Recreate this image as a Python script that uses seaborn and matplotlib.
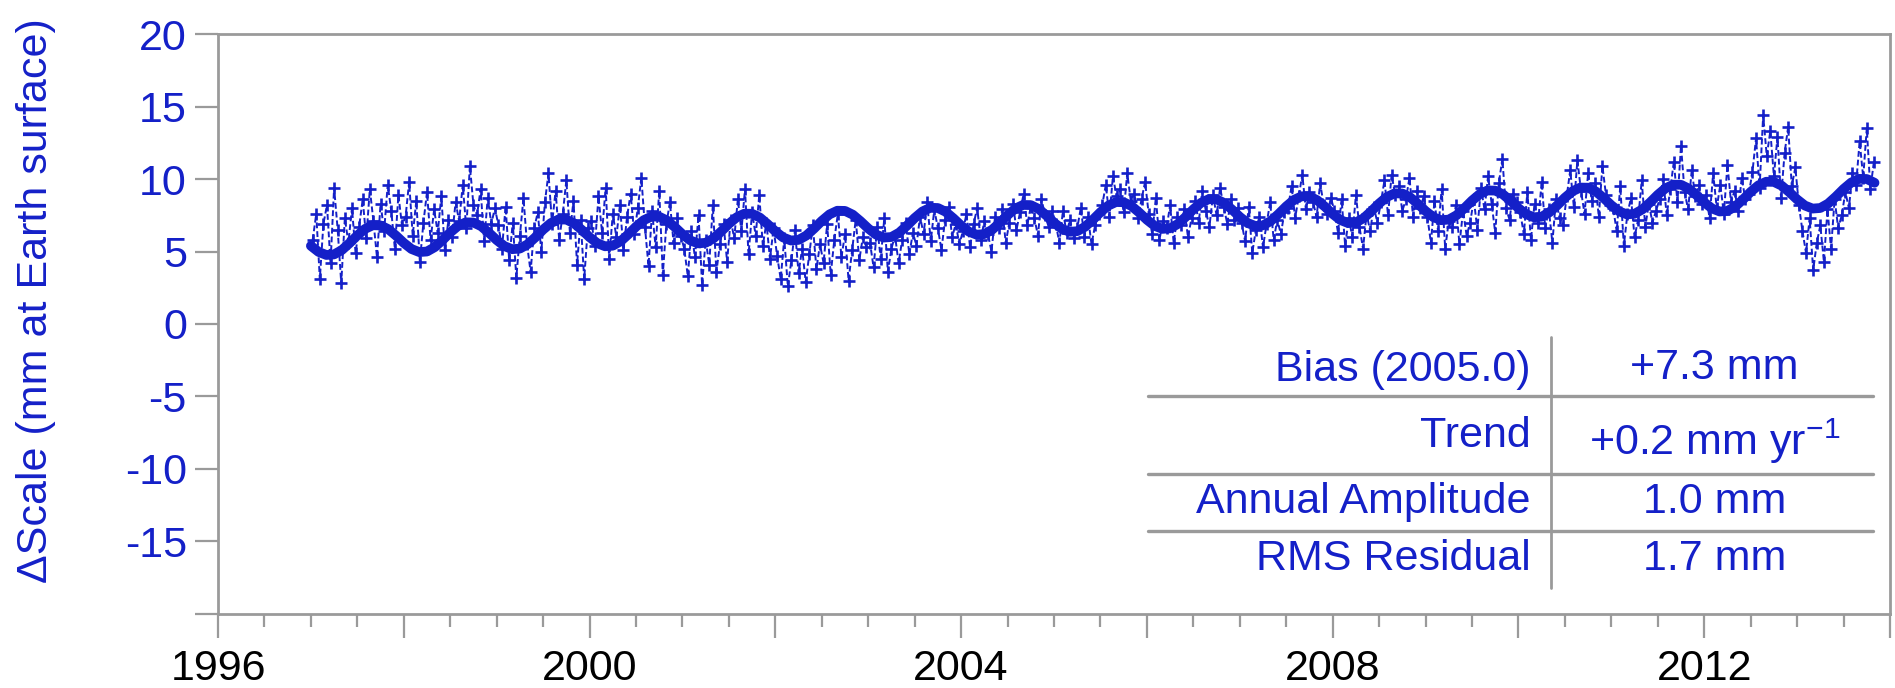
import numpy as np
import pandas as pd
import matplotlib
matplotlib.use('Agg')
import matplotlib.pyplot as plt
from matplotlib.ticker import MultipleLocator, FuncFormatter
import seaborn as sns

# Weekly-ish (biweekly) scale estimates, mm at Earth surface
raw_1997 = [5.8, 7.6, 3.1, 6.9, 8.2, 4.2, 9.4, 6.5, 2.8, 7.3, 5.6, 8.0, 4.9,
            6.7, 8.6, 5.9, 9.3, 7.1, 4.6, 8.3, 6.4, 9.6, 7.8, 5.2, 8.9, 6.8]
raw_1998 = [7.4, 9.8, 6.1, 8.5, 4.3, 7.0, 9.1, 5.8, 7.9, 6.3, 8.8, 5.1, 7.2,
            6.0, 8.4, 7.1, 9.6, 6.6, 10.9, 8.2, 7.5, 9.3, 5.7, 8.7, 6.9, 8.0]
raw_1999 = [6.8, 5.2, 8.1, 4.4, 7.0, 3.2, 6.1, 8.7, 5.5, 3.6, 6.6, 7.7, 5.0,
            8.4, 10.4, 6.9, 9.2, 5.8, 7.6, 9.9, 6.3, 8.5, 4.1, 7.2, 3.1, 6.6]
raw_2000 = [7.1, 5.4, 8.8, 6.3, 9.4, 4.5, 7.6, 6.0, 8.2, 5.1, 7.4, 9.0, 6.2,
            8.0, 10.1, 6.7, 4.0, 7.8, 5.3, 9.2, 3.4, 6.9, 8.4, 5.6, 7.3, 6.1]
raw_2001 = [5.2, 3.3, 6.4, 4.6, 7.5, 2.7, 5.8, 4.1, 8.2, 3.6, 5.5, 6.9, 4.3,
            7.2, 5.9, 8.6, 6.4, 9.3, 4.8, 7.7, 6.1, 8.9, 5.4, 7.0, 4.5, 6.6]
raw_2002 = [4.7, 3.1, 5.9, 2.6, 4.4, 6.5, 3.5, 5.2, 2.9, 4.8, 6.8, 3.8, 5.5,
            4.2, 6.9, 3.4, 5.8, 7.6, 4.6, 6.2, 3.0, 5.1, 7.2, 4.4, 6.0, 5.3]
raw_2003 = [5.6, 3.9, 6.7, 4.5, 7.3, 3.6, 5.2, 6.1, 4.2, 5.8, 7.0, 4.8, 6.3,
            5.4, 7.4, 6.2, 8.4, 5.7, 7.9, 6.6, 5.1, 7.2, 8.1, 6.0, 6.9, 5.5]
raw_2004 = [6.4, 7.6, 5.3, 6.9, 8.0, 5.8, 7.1, 6.2, 5.0, 7.4, 6.6, 7.9, 5.6,
            7.0, 8.3, 6.5, 7.7, 9.0, 6.8, 8.1, 7.3, 6.1, 8.6, 7.5, 6.7, 7.8]
raw_2005 = [6.9, 5.6, 7.8, 6.3, 7.2, 5.9, 6.6, 8.0, 6.0, 7.4, 5.5, 6.8, 7.6,
            8.2, 9.6, 7.4, 10.2, 8.8, 9.3, 7.7, 10.4, 8.5, 9.0, 7.3, 8.6, 9.8]
raw_2006 = [7.6, 6.2, 8.7, 5.8, 7.1, 6.6, 8.2, 5.6, 7.4, 6.8, 7.9, 6.0, 7.3,
            8.5, 7.0, 9.2, 7.8, 6.7, 8.9, 7.5, 9.4, 8.1, 6.9, 8.6, 7.2, 8.0]
raw_2007 = [7.0, 5.7, 8.1, 4.9, 6.5, 7.4, 5.3, 6.9, 8.4, 5.8, 7.2, 6.2, 7.7,
            8.0, 9.5, 7.3, 8.8, 10.3, 7.9, 9.1, 8.4, 7.4, 9.7, 8.2, 7.6, 8.7]
raw_2008 = [7.8, 6.3, 8.6, 5.4, 7.3, 6.0, 8.9, 6.7, 5.2, 7.6, 6.4, 8.1, 7.0,
            8.4, 9.9, 7.5, 10.3, 8.9, 9.5, 7.8, 8.6, 10.1, 7.4, 9.2, 8.0, 8.8]
raw_2009 = [7.4, 5.6, 8.5, 6.4, 9.3, 5.2, 7.1, 6.7, 8.2, 5.5, 7.8, 6.1, 7.0,
            8.6, 6.5, 9.4, 7.9, 10.2, 8.3, 6.3, 9.7, 11.4, 8.0, 7.2, 9.0, 8.4]
raw_2010 = [7.7, 6.2, 9.1, 5.8, 8.3, 7.0, 9.8, 6.6, 7.9, 5.6, 8.6, 7.3, 6.8,
            8.8, 10.6, 8.1, 11.3, 9.2, 7.6, 10.4, 8.5, 9.7, 7.4, 10.9, 8.9, 8.2]
raw_2011 = [8.0, 6.4, 9.5, 5.4, 7.6, 8.7, 6.0, 7.2, 9.9, 6.7, 8.3, 7.0, 7.8,
            8.6, 10.0, 7.5, 9.3, 11.2, 8.4, 12.3, 9.1, 7.9, 10.6, 8.8, 9.6, 8.3]
raw_2012 = [8.9, 7.3, 10.4, 8.0, 9.6, 7.6, 11.0, 8.4, 9.2, 7.8, 10.1, 8.6, 9.0,
            10.5, 12.8, 9.4, 14.4, 11.6, 13.3, 10.2, 12.9, 8.7, 11.8, 13.6, 9.5, 10.8]
raw_2013 = [8.2, 6.4, 4.9, 7.3, 3.7, 5.6, 6.8, 4.3, 7.9, 5.2, 8.6, 6.6, 7.5,
            9.1, 8.0, 10.4, 9.6, 12.6, 10.1, 13.5, 9.3, 11.2]
raw_years = list(range(1997, 2014))

# fitted model (bias + trend + annual), monthly values from Jan 1997
fit_scale = [
    5.39, 4.97, 4.76, 4.80, 5.10, 5.58, 6.11, 6.56, 6.81, 6.80, 6.54, 6.09,
    5.59, 5.17, 4.96, 5.00, 5.30, 5.78, 6.31, 6.76, 7.01, 7.00, 6.74, 6.29,
    5.79, 5.37, 5.16, 5.20, 5.50, 5.98, 6.51, 6.96, 7.21, 7.20, 6.94, 6.49,
    5.99, 5.57, 5.36, 5.40, 5.70, 6.18, 6.71, 7.16, 7.41, 7.40, 7.14, 6.69,
    6.19, 5.77, 5.56, 5.60, 5.90, 6.38, 6.91, 7.36, 7.61, 7.60, 7.34, 6.89,
    6.39, 5.97, 5.76, 5.80, 6.10, 6.58, 7.11, 7.56, 7.81, 7.80, 7.54, 7.09,
    6.59, 6.17, 5.96, 6.00, 6.30, 6.78, 7.31, 7.76, 8.01, 8.00, 7.74, 7.29,
    6.79, 6.37, 6.16, 6.20, 6.50, 6.98, 7.51, 7.96, 8.21, 8.20, 7.94, 7.49,
    6.99, 6.57, 6.36, 6.40, 6.70, 7.18, 7.71, 8.16, 8.41, 8.40, 8.14, 7.69,
    7.19, 6.77, 6.56, 6.60, 6.90, 7.38, 7.91, 8.36, 8.61, 8.60, 8.34, 7.89,
    7.39, 6.97, 6.76, 6.80, 7.10, 7.58, 8.11, 8.56, 8.81, 8.80, 8.54, 8.09,
    7.59, 7.17, 6.96, 7.00, 7.30, 7.78, 8.31, 8.76, 9.01, 9.00, 8.74, 8.29,
    7.79, 7.37, 7.16, 7.20, 7.50, 7.98, 8.51, 8.96, 9.21, 9.20, 8.94, 8.49,
    7.99, 7.57, 7.36, 7.40, 7.70, 8.18, 8.71, 9.16, 9.41, 9.40, 9.14, 8.69,
    8.19, 7.77, 7.56, 7.60, 7.90, 8.38, 8.91, 9.36, 9.61, 9.60, 9.34, 8.89,
    8.39, 7.97, 7.76, 7.80, 8.10, 8.58, 9.11, 9.56, 9.81, 9.80, 9.54, 9.09,
    8.59, 8.17, 7.96, 8.00, 8.30, 8.78, 9.31, 9.76, 10.01, 10.00, 9.74,
]

table_labels = ['Bias (2005.0)', 'Trend', 'Annual Amplitude', 'RMS Residual']
table_values = ['+7.3 mm', '+0.2 mm yr$^{-1}$', '1.0 mm', '1.7 mm']

BLUE = '#1420c8'
GRAY = '#9a9a9a'
FONTSIZE = 31

sns.set_style('white')
plt.rcParams['font.family'] = ['Liberation Sans', 'DejaVu Sans']
plt.rcParams['mathtext.default'] = 'regular'

raw_all = [raw_1997, raw_1998, raw_1999, raw_2000, raw_2001, raw_2002,
           raw_2003, raw_2004, raw_2005, raw_2006, raw_2007, raw_2008,
           raw_2009, raw_2010, raw_2011, raw_2012, raw_2013]
raw = pd.DataFrame({
    'year': np.concatenate([yr + (np.arange(len(v)) + 0.5) / 26
                            for yr, v in zip(raw_years, raw_all)]),
    'scale': np.concatenate(raw_all)})
fit = pd.DataFrame({'year': 1997 + np.arange(len(fit_scale)) / 12,
                    'scale': fit_scale})

fig = plt.figure(figsize=(18.95, 6.88), dpi=100)
ax = fig.add_axes([0.11504, 0.10756, 0.88232, 0.84302])

sns.lineplot(data=raw, x='year', y='scale', ax=ax, color=BLUE,
             errorbar=None, linestyle=(0, (3, 1.5)), linewidth=1.4,
             marker='+', markersize=8, markeredgewidth=1.9,
             markeredgecolor=BLUE)
sns.lineplot(data=fit, x='year', y='scale', ax=ax, color=BLUE,
             errorbar=None, linewidth=7, solid_capstyle='round')

ax.set_xlim(1996, 2014)
ax.set_ylim(-20, 20)
ax.set_yticks(range(-20, 21, 5))
ax.set_yticklabels(['' if v == -20 else str(v) for v in range(-20, 21, 5)])
ax.xaxis.set_major_locator(MultipleLocator(2))
ax.xaxis.set_minor_locator(MultipleLocator(0.5))
ax.xaxis.set_major_formatter(FuncFormatter(
    lambda v, p: str(int(round(v))) if int(round(v)) % 4 == 0 else ''))

for sp in ax.spines.values():
    sp.set_color(GRAY)
    sp.set_linewidth(2)
ax.tick_params(axis='y', which='major', direction='out', length=16.5,
               width=1.6, color=GRAY, labelcolor=BLUE, labelsize=FONTSIZE,
               pad=6, left=True)
ax.tick_params(axis='x', which='major', direction='out', length=17,
               width=1.6, color=GRAY, labelcolor='black', labelsize=FONTSIZE,
               pad=8, bottom=True)
ax.tick_params(axis='x', which='minor', direction='out', length=9,
               width=1.6, color=GRAY, bottom=True)

ax.set_xlabel('')
ax.set_ylabel('\u0394Scale (mm at Earth surface)', color=BLUE,
              fontsize=FONTSIZE)
ax.yaxis.set_label_coords(-0.097, 0.54)

# summary table of the fit
tr = ax.transAxes
ax.plot([0.797, 0.797], [0.478, 0.045], color=GRAY, lw=2, transform=tr,
        clip_on=False)
for yy in [0.376, 0.241, 0.143]:
    ax.plot([0.556, 0.990], [yy, yy], color=GRAY, lw=2.4, transform=tr,
            clip_on=False)
label_y = [0.402, 0.288, 0.174, 0.076]
value_y = [0.405, 0.274, 0.174, 0.076]
for lab, val, ly, vy in zip(table_labels, table_values, label_y, value_y):
    ax.text(0.785, ly, lab, transform=tr, ha='right', va='baseline',
            color=BLUE, fontsize=FONTSIZE)
    ax.text(0.895, vy, val, transform=tr, ha='center', va='baseline',
            color=BLUE, fontsize=FONTSIZE)

fig.savefig('out.png', dpi=100)
